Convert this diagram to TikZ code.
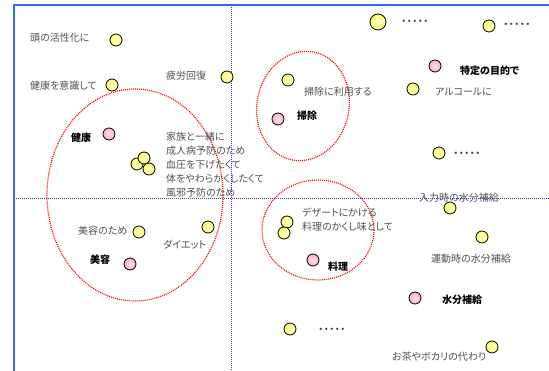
\documentclass[tikz,border=0pt]{standalone}
\usepackage{fontspec}
\setmainfont{Noto Sans CJK JP}[RawFeature=+palt]
\definecolor{frameblue}{HTML}{3366FF}
\definecolor{axisblue}{HTML}{3333FF}
\definecolor{txtgray}{HTML}{505050}
\definecolor{ylw}{HTML}{FFFF66}
\definecolor{pnk}{HTML}{FFA8C8}
\tikzset{
  ydot/.style={circle, draw=black, line width=0.8pt, minimum size=12pt, inner sep=0pt,
    inner color=ylw!25!white, outer color=ylw},
  pdot/.style={circle, draw=black, line width=0.8pt, minimum size=12pt, inner sep=0pt,
    inner color=pnk!25!white, outer color=pnk},
  lbl/.style={anchor=west, inner sep=0pt, text=txtgray, font=\fontsize{10}{14}\selectfont},
  dotsl/.style={anchor=west, inner sep=0pt, text=txtgray!80!black, font=\fontsize{11}{14}\selectfont\bfseries},
  bold/.style={anchor=west, inner sep=0pt, text=black, font=\fontsize{10}{14}\selectfont\bfseries},
  grp/.style={draw=red, line width=1.2pt, dash pattern=on 1pt off 1pt},
  axis/.style={draw=axisblue, line width=1pt, dash pattern=on 1pt off 1pt},
}
\begin{document}
\begin{tikzpicture}[x=1pt, y=-1pt]
\useasboundingbox (0,0) rectangle (549,371);
% axes
\coordinate (vt) at (231,5); \coordinate (vb) at (231,371);
\coordinate (hl) at (14,199); \coordinate (hr) at (549,199);
\draw[axis] (vt) -- (vb);
\draw[axis] (hl) -- (hr);
% frame
\coordinate (fbl) at (14,371); \coordinate (ftl) at (14,5); \coordinate (ftr) at (549,5);
\draw[frameblue, line width=2pt] (fbl) -- (ftl) -- (ftr);
% group ellipses
\draw[grp] (135,195) ellipse [x radius=88, y radius=106];
\draw[grp, rotate around={-12:(303,106)}] (303,106) ellipse [x radius=46, y radius=55];
\draw[grp] (318,230) ellipse [x radius=56, y radius=50];
% left top
\node[ydot] (y1) at (116,40) {};
\node[lbl] (t1) at (30,38) {頭の活性化に};
\node[ydot] (y2) at (112,85) {};
\node[lbl] (t2) at (30,86) {健康を意識して};
\node[ydot] (y3) at (227,77) {};
\node[lbl] (t3) at (166,76) {疲労回復};
% health cluster
\node[pdot] (p1) at (109,134) {};
\node[bold] (b1) at (71,138) {健康};
\node[ydot] (y4) at (137,164) {};
\node[ydot] (y5) at (144,158) {};
\node[ydot] (y6) at (149,169) {};
\node[lbl, align=left] (t4) at (166,165) {家族と一緒に\\成人病予防のため\\血圧を下げたくて\\体をやわらかくしたくて\\風邪予防のため};
% beauty
\node[ydot] (y7) at (139,232) {};
\node[lbl] (t5) at (78,231) {美容のため};
\node[ydot] (y8) at (208,227) {};
\node[lbl] (t6) at (163,245) {ダイエット};
\node[pdot] (p2) at (130,264) {};
\node[bold] (b2) at (90,260) {美容};
% top right
\node[ydot, minimum size=16pt] (y9) at (378,22) {};
\node[dotsl] (d1) at (401,23) {･････};
\node[ydot] (y10) at (489,26) {};
\node[dotsl] (d2) at (503,26) {･････};
\node[pdot] (p3) at (435,66) {};
\node[bold] (b3) at (460,71) {特定の目的で};
\node[ydot] (y11) at (413,89) {};
\node[lbl] (t7) at (435,92) {アルコールに};
\node[ydot] (y13) at (439,153) {};
\node[dotsl] (d3) at (453,155) {･････};
% cleaning
\node[ydot] (y12) at (288,80) {};
\node[lbl] (t8) at (304,92) {掃除に利用する};
\node[pdot] (p4) at (278,119) {};
\node[bold] (b4) at (297,116) {掃除};
% cooking
\node[ydot] (y18) at (287,222) {};
\node[ydot] (y19) at (284,233) {};
\node[lbl, align=left] (t9) at (302,219.5) {デザートにかける\\料理のかくし味として};
\node[pdot] (p6) at (313,260) {};
\node[bold] (b6) at (328,267) {料理};
% water
\node[lbl] (t10) at (419,198) {入力時の水分補給};
\node[ydot] (y14) at (450,208) {};
\node[ydot] (y15) at (482,237) {};
\node[lbl] (t11) at (431,259) {運動時の水分補給};
\node[pdot] (p5) at (415,298) {};
\node[bold] (b5) at (442,300) {水分補給};
\node[ydot] (y16) at (290,329) {};
\node[dotsl] (d4) at (318,331) {･････};
\node[ydot] (y17) at (492,347) {};
\node[lbl] (t12) at (392,357) {お茶やボカリの代わり};
\end{tikzpicture}
\end{document}
